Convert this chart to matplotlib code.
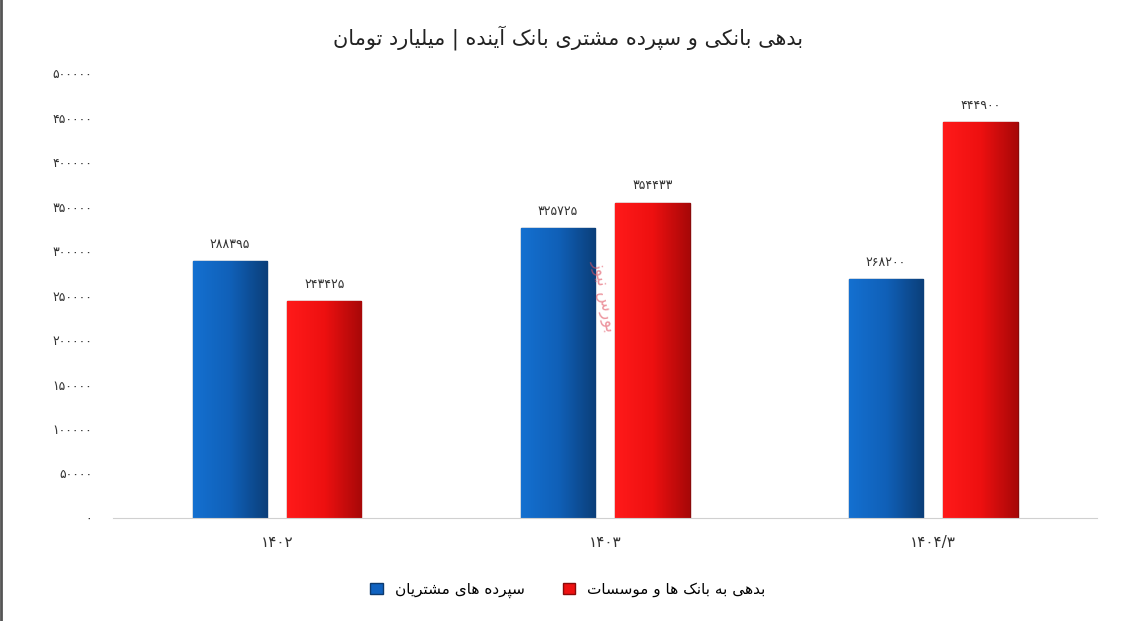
import numpy as np
import matplotlib
matplotlib.use("Agg")
import matplotlib.pyplot as plt
from matplotlib.colors import LinearSegmentedColormap

# forms: isolated, final, initial, medial (None = no forward join)
FORMS = {
    'ا': ('\uFE8D', '\uFE8E', None, None),
    'آ': ('\uFE81', '\uFE82', None, None),
    'ب': ('\uFE8F', '\uFE90', '\uFE91', '\uFE92'),
    'پ': ('\uFB56', '\uFB57', '\uFB58', '\uFB59'),
    'ت': ('\uFE95', '\uFE96', '\uFE97', '\uFE98'),
    'د': ('\uFEA9', '\uFEAA', None, None),
    'ر': ('\uFEAD', '\uFEAE', None, None),
    'ز': ('\uFEAF', '\uFEB0', None, None),
    'س': ('\uFEB1', '\uFEB2', '\uFEB3', '\uFEB4'),
    'ش': ('\uFEB5', '\uFEB6', '\uFEB7', '\uFEB8'),
    'ل': ('\uFEDD', '\uFEDE', '\uFEDF', '\uFEE0'),
    'م': ('\uFEE1', '\uFEE2', '\uFEE3', '\uFEE4'),
    'ن': ('\uFEE5', '\uFEE6', '\uFEE7', '\uFEE8'),
    'ه': ('\uFEE9', '\uFEEA', '\uFEEB', '\uFEEC'),
    'و': ('\uFEED', '\uFEEE', None, None),
    'ی': ('\uFBFC', '\uFBFD', '\uFBFE', '\uFBFF'),
    'ک': ('\uFB8E', '\uFB8F', '\uFB90', '\uFB91'),
}


def fa(text):
    out = []
    for i, ch in enumerate(text):
        if ch not in FORMS:
            out.append(ch)
            continue
        prev = text[i - 1] if i > 0 else ''
        nxt = text[i + 1] if i + 1 < len(text) else ''
        jp = prev in FORMS and FORMS[prev][2] is not None
        jn = nxt in FORMS and FORMS[ch][2] is not None
        iso, fin, ini, med = FORMS[ch]
        if jp and jn:
            out.append(med)
        elif jp:
            out.append(fin)
        elif jn:
            out.append(ini)
        else:
            out.append(iso)
    return ''.join(out[::-1])


def fa_num(n):
    return str(n).translate(str.maketrans('0123456789', '۰۱۲۳۴۵۶۷۸۹'))


categories = ['۱۴۰۲', '۱۴۰۳', '۱۴۰۴/۳']
deposits = [288395, 325725, 268200]
debts = [243425, 354433, 444900]
title = 'بدهی بانکی و سپرده مشتری بانک آینده | میلیارد تومان'
label_dep = 'سپرده های مشتریان'
label_debt = 'بدهی به بانک ها و موسسات'
yticks = np.arange(0, 500001, 50000)

plt.rcParams['font.family'] = ['DejaVu Sans']
fig = plt.figure(figsize=(11.36, 6.21), dpi=100)
ax = fig.add_axes([0.0995, 0.166, 0.8665, 0.716])

x = np.arange(len(categories))
w = 0.226
b1 = ax.bar(x - 0.144, deposits, w, color='#1062c0', edgecolor='#0d3a6e', linewidth=1, label=fa(label_dep))
b2 = ax.bar(x + 0.144, debts, w, color='#ee1111', edgecolor='#8a0a0a', linewidth=1, label=fa(label_debt))

# horizontal gradient inside each bar
grad = np.linspace(0, 1, 64).reshape(1, -1)
cm_blue = LinearSegmentedColormap.from_list('b', ['#1470d0', '#1060b8', '#0b3f7a'])
cm_red = LinearSegmentedColormap.from_list('r', ['#ff1a1a', '#ee1010', '#a80808'])
for bars, cm in ((b1, cm_blue), (b2, cm_red)):
    for r in bars:
        x0, y0, bw, bh = r.get_x(), r.get_y(), r.get_width(), r.get_height()
        im = ax.imshow(grad, cmap=cm, aspect='auto', extent=(x0, x0 + bw, y0, y0 + bh), zorder=r.get_zorder())
        im.set_clip_path(r)

for bars, vals in ((b1, deposits), (b2, debts)):
    for r, v in zip(bars, vals):
        ax.text(r.get_x() + r.get_width() / 2, v + 12000, fa_num(v), ha='center', va='bottom', fontsize=9, color='#333333')

ax.set_xlim(-0.5, 2.5)
ax.set_ylim(0, 500000)
ax.set_xticks(x)
ax.set_xticklabels(categories, fontsize=11, color='#333333')
ax.set_yticks(yticks)
ax.set_yticklabels([fa_num(v) for v in yticks], fontsize=9, color='#333333')
ax.tick_params(length=0, pad=12)
ax.tick_params(axis='y', pad=15)
for s in ['top', 'right', 'left']:
    ax.spines[s].set_visible(False)
ax.spines['bottom'].set_color('#d0d0d0')

ax.text(1.0, 250000, fa('بورس نیوز'), rotation=-80, ha='center', va='center', fontsize=12, color='#e05060', alpha=0.6, zorder=5)

fig.text(0.5, 0.94, fa(title), ha='center', va='center', fontsize=15, color='#222222')
fig.legend(handles=[b1, b2], loc='center', bbox_to_anchor=(0.5, 0.05), ncol=2, frameon=False,
           fontsize=11, handlelength=0.8, handleheight=0.8, columnspacing=2.5)
fig.add_artist(plt.Line2D([0.001, 0.001], [0, 1], color='#555555', linewidth=2, transform=fig.transFigure))

fig.savefig('out.png', dpi=100)
